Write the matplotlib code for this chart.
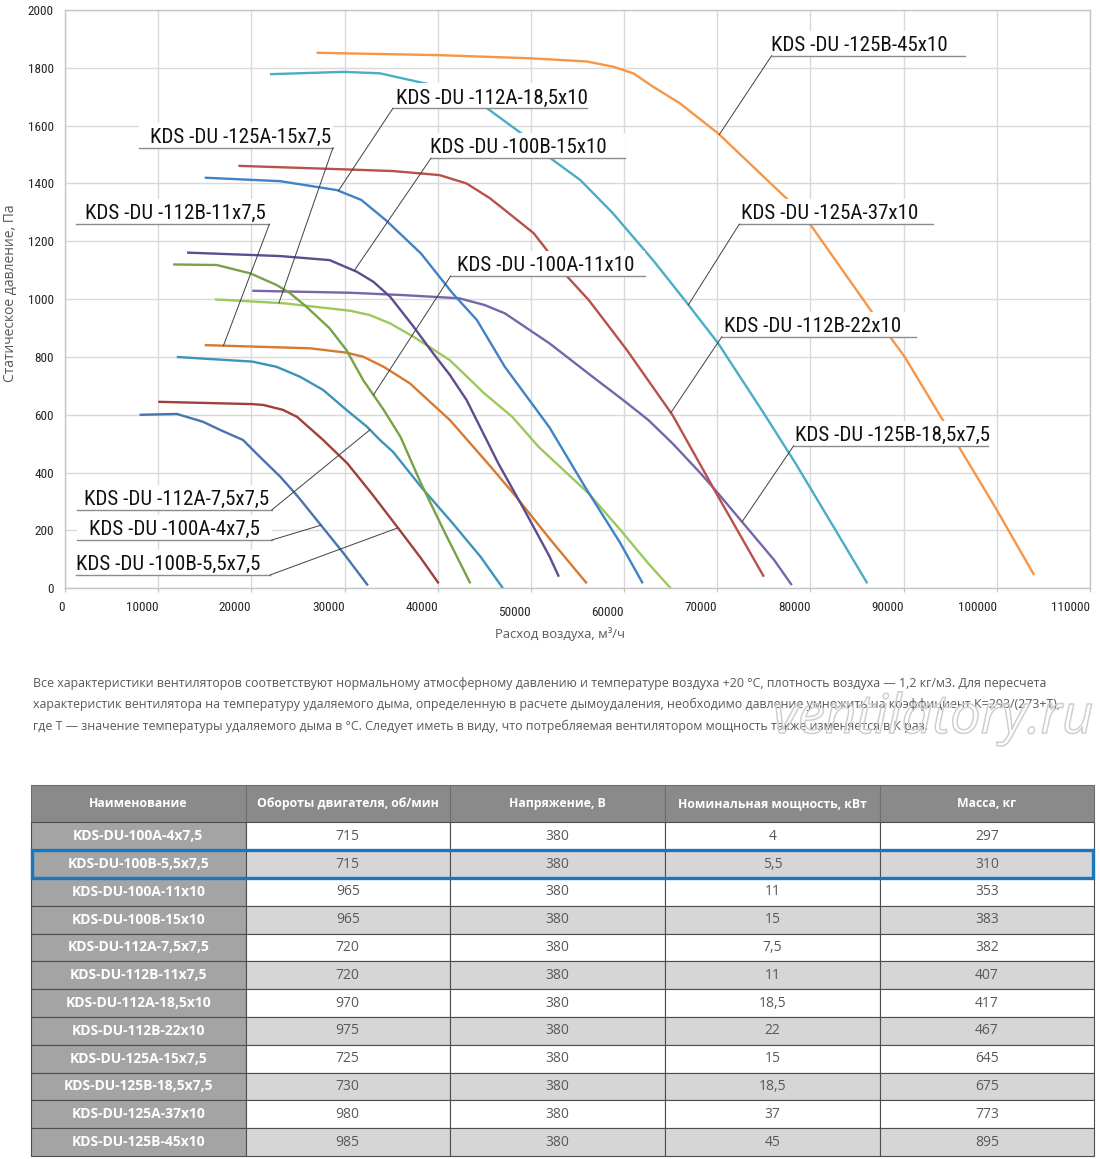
import numpy as np
import matplotlib
matplotlib.use('Agg')
import matplotlib.pyplot as plt
from matplotlib import font_manager
from matplotlib.patches import Rectangle
import matplotlib.patheffects as pe
import matplotlib.transforms as mtransforms

W, H = 1100, 1159

avail = {f.name for f in font_manager.fontManager.ttflist}


def pick(names, default='DejaVu Sans'):
    for n in names:
        if n in avail:
            return n
    return default


COND = pick(['Liberation Sans Narrow', 'Roboto Condensed', 'Open Sans Condensed'], 'Liberation Sans')
BODY = pick(['Open Sans', 'Noto Sans', 'Lato'])

# ---- fan curves: air flow (m3/h) vs static pressure (Pa)
q_100a_4 = [8000, 12000, 14800, 16700, 19100, 20900, 23100, 25000, 27600, 29900, 32500]
p_100a_4 = [600, 603, 576, 547, 513, 455, 386, 317, 213, 121, 10]

q_100b_55 = [10000, 20100, 21300, 23400, 24900, 27700, 30300, 32900, 35900, 38200, 40100]
p_100b_55 = [645, 637, 634, 617, 593, 513, 432, 328, 202, 104, 17]

q_112a_75 = [12000, 20100, 22700, 25200, 27700, 30200, 32400, 33800, 35200, 38200, 41600, 44600, 47000]
p_112a_75 = [800, 784, 766, 732, 686, 617, 559, 513, 472, 351, 225, 109, 0]

q_112b_11 = [15000, 26300, 30200, 32000, 34200, 37000, 41300, 45700, 48400, 52000, 53900, 56000]
p_112b_11 = [841, 830, 815, 801, 766, 709, 582, 420, 317, 172, 98, 17]

q_125a_15 = [16100, 23400, 30600, 32700, 34900, 37400, 41300, 45000, 48000, 50800, 56200, 59600, 62600, 65000]
p_125a_15 = [999, 986, 960, 945, 916, 870, 789, 674, 593, 490, 328, 202, 86, 0]

q_125b_185 = [20100, 30700, 36300, 42300, 45000, 47200, 52000, 56600, 59900, 62600, 65200, 68200, 70100, 73100, 76100, 78000]
p_125b_185 = [1029, 1022, 1014, 1003, 980, 951, 847, 732, 651, 582, 501, 398, 328, 213, 98, 11]

q_100a_11 = [11600, 16300, 19900, 22700, 24100, 25900, 28400, 30200, 32000, 34200, 36000, 38200, 40800, 43500]
p_100a_11 = [1120, 1118, 1089, 1049, 1022, 974, 899, 824, 720, 617, 524, 363, 190, 17]

q_100b_15 = [13100, 23100, 28400, 31300, 33100, 34900, 37400, 39500, 41300, 43100, 46500, 49500, 52000, 53000]
p_100b_15 = [1161, 1149, 1135, 1095, 1060, 1008, 905, 813, 738, 651, 432, 259, 110, 40]

q_112a_185 = [15000, 23100, 29200, 31800, 34400, 38200, 41600, 44200, 47200, 52000, 55800, 59600, 62000]
p_112a_185 = [1420, 1408, 1377, 1343, 1274, 1158, 1020, 928, 766, 556, 351, 156, 17]

q_112b_22 = [18600, 29900, 35200, 40200, 43100, 45600, 48100, 50300, 51700, 53900, 56200, 57700, 60300, 65200, 70100, 75000]
p_112b_22 = [1461, 1449, 1443, 1429, 1400, 1349, 1285, 1228, 1170, 1078, 997, 934, 824, 599, 317, 40]

q_125a_37 = [22000, 29900, 33800, 39500, 45300, 49200, 51900, 55300, 58800, 63100, 66500, 70100, 75000, 78400, 82900, 86100]
p_125a_37 = [1778, 1786, 1781, 1740, 1660, 1568, 1492, 1412, 1297, 1135, 997, 847, 605, 432, 190, 17]

q_125b_45 = [27000, 40000, 49900, 56000, 58800, 61000, 63100, 66000, 70100, 77600, 79900, 86700, 90100, 94200, 99800, 104000]
p_125b_45 = [1852, 1844, 1833, 1822, 1804, 1781, 1735, 1677, 1573, 1343, 1262, 951, 801, 582, 282, 46]

curves = {
    'KDS-DU-100A-4x7,5': (q_100a_4, p_100a_4, '#4874AE'),
    'KDS-DU-100B-5,5x7,5': (q_100b_55, p_100b_55, '#A03F3B'),
    'KDS-DU-112A-7,5x7,5': (q_112a_75, p_112a_75, '#3D93BA'),
    'KDS-DU-112B-11x7,5': (q_112b_11, p_112b_11, '#D9782F'),
    'KDS-DU-125A-15x7,5': (q_125a_15, p_125a_15, '#9CC95C'),
    'KDS-DU-125B-18,5x7,5': (q_125b_185, p_125b_185, '#7864A9'),
    'KDS-DU-100A-11x10': (q_100a_11, p_100a_11, '#78A245'),
    'KDS-DU-100B-15x10': (q_100b_15, p_100b_15, '#5E4C8E'),
    'KDS-DU-112A-18,5x10': (q_112a_185, p_112a_185, '#3F82C6'),
    'KDS-DU-112B-22x10': (q_112b_22, p_112b_22, '#B9504B'),
    'KDS-DU-125A-37x10': (q_125a_37, p_125a_37, '#4BACC6'),
    'KDS-DU-125B-45x10': (q_125b_45, p_125b_45, '#F79646'),
}

# label layout: underline from x1 to x2 at y, text centre, flow where the leader hits the curve, leader side
label_layout = [
    ('KDS-DU-125A-15x7,5', 7940, 28760, 1524, 18885, 22960, 'r'),
    ('KDS-DU-112A-18,5x10', 35190, 56060, 1660, 45820, 29350, 'l'),
    ('KDS-DU-100B-15x10', 39270, 60090, 1487, 48610, 31040, 'l'),
    ('KDS-DU-112B-11x7,5', 1180, 21930, 1259, 11860, 17000, 'r'),
    ('KDS-DU-100A-11x10', 41390, 62200, 1080, 51610, 33100, 'l'),
    ('KDS-DU-125B-45x10', 75830, 96570, 1842, 85200, 70220, 'l'),
    ('KDS-DU-125A-37x10', 72360, 93180, 1259, 82080, 66900, 'l'),
    ('KDS-DU-112B-22x10', 70490, 91370, 870, 80210, 65020, 'l'),
    ('KDS-DU-125B-18,5x7,5', 78200, 99080, 493, 88840, 72660, 'l'),
    ('KDS-DU-112A-7,5x7,5', 1310, 22190, 271, 12000, 32730, 'r'),
    ('KDS-DU-100A-4x7,5', 1310, 22190, 167, 11770, 27470, 'r'),
    ('KDS-DU-100B-5,5x7,5', 1230, 22000, 46, 11050, 35730, 'r'),
]

# ---- table
col_headers = ['Наименование', 'Обороты двигателя, об/мин', 'Напряжение, В',
               'Номинальная мощность, кВт', 'Масса, кг']
models = ['KDS-DU-100A-4x7,5', 'KDS-DU-100B-5,5x7,5', 'KDS-DU-100A-11x10', 'KDS-DU-100B-15x10',
          'KDS-DU-112A-7,5x7,5', 'KDS-DU-112B-11x7,5', 'KDS-DU-112A-18,5x10', 'KDS-DU-112B-22x10',
          'KDS-DU-125A-15x7,5', 'KDS-DU-125B-18,5x7,5', 'KDS-DU-125A-37x10', 'KDS-DU-125B-45x10']
rpm = [715, 715, 965, 965, 720, 720, 970, 975, 725, 730, 980, 985]
voltage = [380, 380, 380, 380, 380, 380, 380, 380, 380, 380, 380, 380]
power = ['4', '5,5', '11', '15', '7,5', '11', '18,5', '22', '15', '18,5', '37', '45']
mass = [297, 310, 353, 383, 382, 407, 417, 467, 645, 675, 773, 895]
highlight_row = 1

note_lines = [
    'Все характеристики вентиляторов соответствуют нормальному атмосферному давлению и температуре воздуха +20 °С, плотность воздуха — 1,2 кг/м3. Для пересчета',
    'характеристик вентилятора на температуру удаляемого дыма, определенную в расчете дымоудаления, необходимо давление умножить на коэффициент К=293/(273+Т),',
    'где Т — значение температуры удаляемого дыма в °С. Следует иметь в виду, что потребляемая вентилятором мощность также изменяется в К раз.',
]

fig = plt.figure(figsize=(W / 100, H / 100), dpi=100)
fig.patch.set_facecolor('white')
renderer = fig.canvas.get_renderer()


def fit(t, size, vertical=False):
    bb = t.get_window_extent(renderer)
    cur = bb.height if vertical else bb.width
    t.set_fontsize(t.get_fontsize() * size / cur)


# overlay in pixel coordinates for notes, table, axis titles
tab = fig.add_axes([0, 0, 1, 1])
tab.set_xlim(0, W)
tab.set_ylim(H, 0)
tab.axis('off')

ax = fig.add_axes([65 / W, 1 - 588.3 / H, 1025 / W, 578.3 / H])
ax.set_xlim(0, 110000)
ax.set_ylim(0, 2000)
xt = list(range(0, 110001, 10000))
ax.set_xticks(xt)
ax.set_yticks(range(0, 2001, 200))
ax.set_xticklabels([str(v) for v in xt])
ax.grid(True, color='#D9D9D9', lw=1)
ax.set_axisbelow(True)
for s in ax.spines.values():
    s.set_color('#C6C6C6')
    s.set_linewidth(1)
ax.tick_params(axis='x', length=3, color='#BFBFBF', pad=6, labelsize=9.5, labelcolor='#262626')
ax.tick_params(axis='y', length=0, pad=8, labelsize=9.5, labelcolor='#262626')
for lab in ax.get_xticklabels() + ax.get_yticklabels():
    lab.set_fontfamily(COND)
for lab in ax.get_xticklabels():
    lab.set_ha('right')

for name, (q, p, c) in curves.items():
    ax.plot(q, p, color=c, lw=1.7, zorder=2, solid_capstyle='butt', solid_joinstyle='round')

label_size = None
for name, x1, x2, y, tx, lq, side in label_layout:
    q, p, c = curves[name]
    ep = np.interp(lq, q, p)
    ax.add_patch(Rectangle((x1, y), x2 - x1, 86, fc='white', ec='none', zorder=3))
    ax.plot([x1, x2], [y, y], color='#8C8C8C', lw=1, zorder=3.5)
    sx = x1 if side == 'l' else x2
    ax.plot([sx, lq], [y, ep], color='#404040', lw=0.7, zorder=3.5)
    t = ax.text(tx, y + 17, name.replace('-', ' -', 2), ha='center', va='baseline',
                family=COND, fontsize=15, color='#111111', zorder=4)
    if label_size is None:
        fit(t, 181)
        label_size = t.get_fontsize()
    else:
        t.set_fontsize(label_size)

# axis titles
xl = tab.text(560, 634, 'Расход воздуха, м³/ч', ha='center', va='center', color='#595959',
              family=BODY, fontsize=10)
fit(xl, 130)
yl = tab.text(11, 293, 'Статическое давление, Па', ha='center', va='center', rotation=90,
              color='#595959', family=BODY, fontsize=10)
fit(yl, 177, vertical=True)

# notes
note_ys = [683, 704.5, 726]
note_size = None
for line, ny in zip(note_lines, note_ys):
    t = tab.text(33, ny, line, ha='left', va='center', color='#595959', family=BODY, fontsize=9.5)
    if note_size is None:
        fit(t, 1020)
        note_size = t.get_fontsize()
    else:
        t.set_fontsize(note_size)

wm = tab.text(773, 733, 'ventilatory.ru', ha='left', va='baseline', style='italic',
              family=BODY, fontsize=36, color='none',
              path_effects=[pe.withStroke(linewidth=1.1, foreground='#CFCFCF')], zorder=20)
fit(wm, 320)

# table
cell_text = [[m, str(r), str(v), pw, str(ms)] for m, r, v, pw, ms in zip(models, rpm, voltage, power, mass)]
col_px = [214.5, 204.2, 215.3, 214.7, 214.0]
tbl = tab.table(cellText=cell_text, colLabels=col_headers, cellLoc='center',
                colWidths=[w / sum(col_px) for w in col_px],
                bbox=[31 / W, 1 - 1156 / H, 1063 / W, (1156 - 785) / H])
tbl.auto_set_font_size(False)
tbl.set_fontsize(10)

# header size so that the longest header fits like in the original
probe = tab.text(0, 0, col_headers[1], family=BODY, fontweight='bold', fontsize=10)
fit(probe, 183)
head_size = probe.get_fontsize()
probe.remove()

for (r, c), cell in tbl.get_celld().items():
    cell.set_height(37.3 if r == 0 else 27.8)
    cell.set_edgecolor('#4D4D4D')
    cell.set_linewidth(0.8)
    txt = cell.get_text()
    txt.set_fontfamily(BODY)
    if r == 0:
        cell.set_facecolor('#8A8A8A')
        cell.set_edgecolor('#6E6E6E')
        txt.set_color('white')
        txt.set_fontweight('bold')
        txt.set_fontsize(head_size)
    elif c == 0:
        cell.set_facecolor('#A4A4A4')
        txt.set_color('white')
        txt.set_fontweight('bold')
    else:
        cell.set_facecolor('white' if r % 2 == 1 else '#D6D6D6')
        txt.set_color('#595959')

row_top = 785 + 37.3 + 27.8 * highlight_row
tab.add_patch(Rectangle((32, row_top), 1061, 27.8, fill=False, ec='#1B76BC', lw=2.4, zorder=10))

# the 50000 and 60000 labels sit a little lower in the original
for lab in ax.get_xticklabels():
    if lab.get_text() in ('50000', '60000'):
        lab.set_transform(lab.get_transform() + mtransforms.ScaledTranslation(0, -0.05, fig.dpi_scale_trans))

fig.savefig('out.png', dpi=100, facecolor='white')
